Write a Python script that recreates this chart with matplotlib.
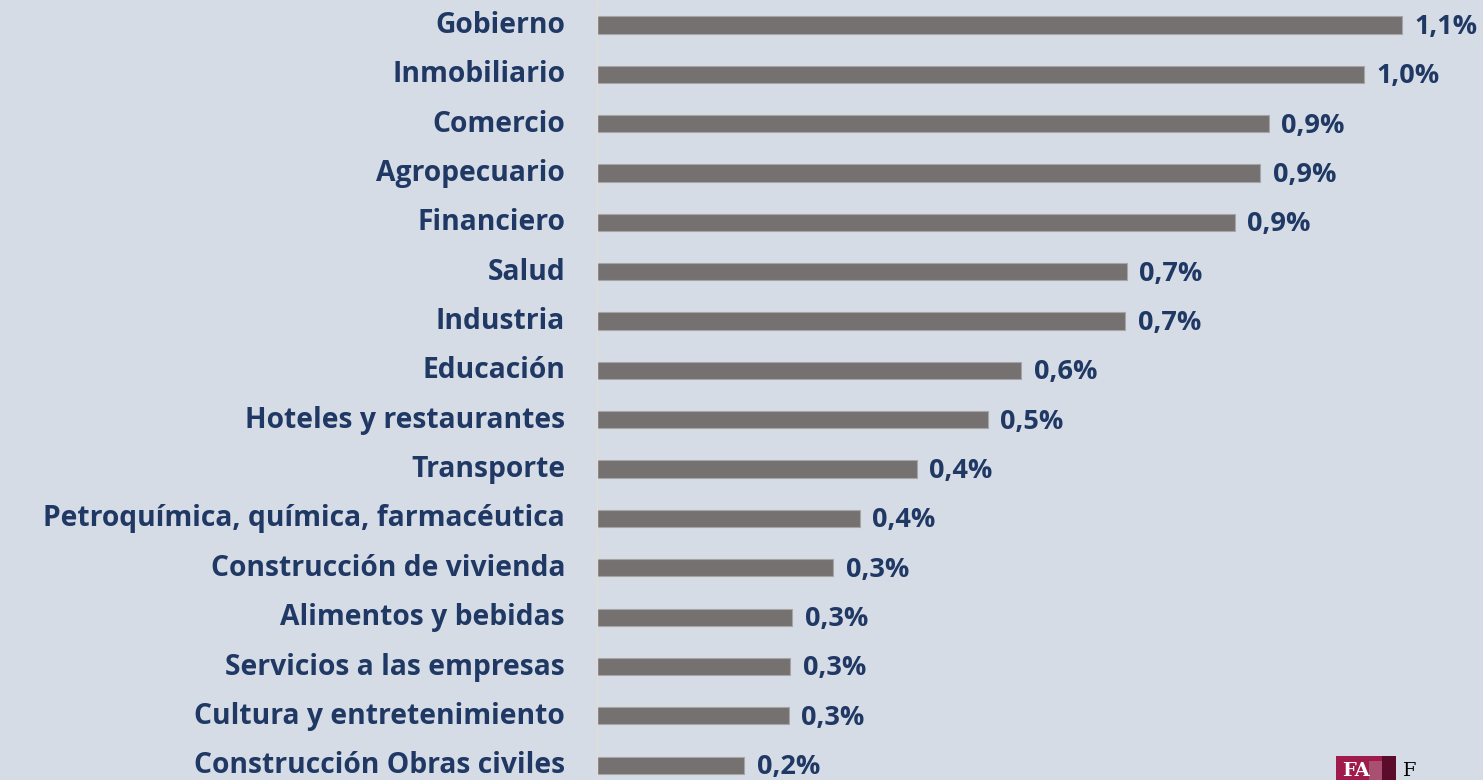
import matplotlib.pyplot as plt
import matplotlib.transforms as mtransforms
from matplotlib.patches import Rectangle

sectores = ["Gobierno", "Inmobiliario", "Comercio", "Agropecuario", "Financiero",
            "Salud", "Industria", "Educación", "Hoteles y restaurantes", "Transporte",
            "Petroquímica, química, farmacéutica", "Construcción de vivienda",
            "Alimentos y bebidas", "Servicios a las empresas",
            "Cultura y entretenimiento", "Construcción Obras civiles"]
valores = [1.088, 1.036, 0.908, 0.896, 0.862, 0.716, 0.714, 0.573, 0.528, 0.432,
           0.355, 0.319, 0.264, 0.261, 0.259, 0.199]

bg = "#d6dce5"
navy = "#1f3864"
gris = "#767171"

plt.rcParams['font.family'] = ['Open Sans', 'DejaVu Sans']

fig = plt.figure(figsize=(14.83, 7.8), dpi=100, facecolor=bg)
ax = fig.add_axes([597/1483, 0, 886/1483, 1])
ax.set_facecolor(bg)

y = list(range(len(sectores)))
ax.barh(y, valores, height=0.35, color=gris, edgecolor="#a5a5a5", linewidth=0.8)

for yi, v in zip(y, valores):
    ax.text(v + 0.017, yi + 0.04, f"{v:.1f}%".replace(".", ","), va="center", ha="left",
            fontsize=19.5, fontweight="bold", color=navy)

ax.set_xlim(0, 886/740)
ax.set_ylim(15.30, -0.507)
ax.set_yticks(y)
ax.set_yticklabels(sectores, fontsize=20.3, fontweight="bold", color=navy)
ax.tick_params(axis="y", length=0, pad=23)
# subir un poco las etiquetas para que la última no quede cortada
shift = mtransforms.ScaledTranslation(0, 3/100, fig.dpi_scale_trans)
for lab in ax.get_yticklabels():
    lab.set_transform(lab.get_transform() + shift)
ax.set_xticks([])
for s in ["top", "right", "bottom"]:
    ax.spines[s].set_visible(False)
ax.spines["left"].set_color("#e2ddd8")
ax.spines["left"].set_linewidth(1)

# logo (parcialmente visible en la esquina)
fig.patches.append(Rectangle((1336/1483, 0), 60/1483, 24/780, transform=fig.transFigure,
                             facecolor="#a01a4a", edgecolor="none"))
fig.patches.append(Rectangle((1369/1483, 0), 13/1483, 19/780, transform=fig.transFigure,
                             facecolor="#a85070", edgecolor="none"))
fig.patches.append(Rectangle((1382/1483, 0), 14/1483, 24/780, transform=fig.transFigure,
                             facecolor="#5a0c2a", edgecolor="none"))
fig.text(1342/1483, 0, "FA", color="white", fontsize=14, family="DejaVu Serif",
         fontweight="bold", va="bottom")
fig.text(1403/1483, 0, "F", color="black", fontsize=14, family="DejaVu Serif",
         va="bottom")

fig.savefig("out.png", dpi=100, facecolor=bg)
